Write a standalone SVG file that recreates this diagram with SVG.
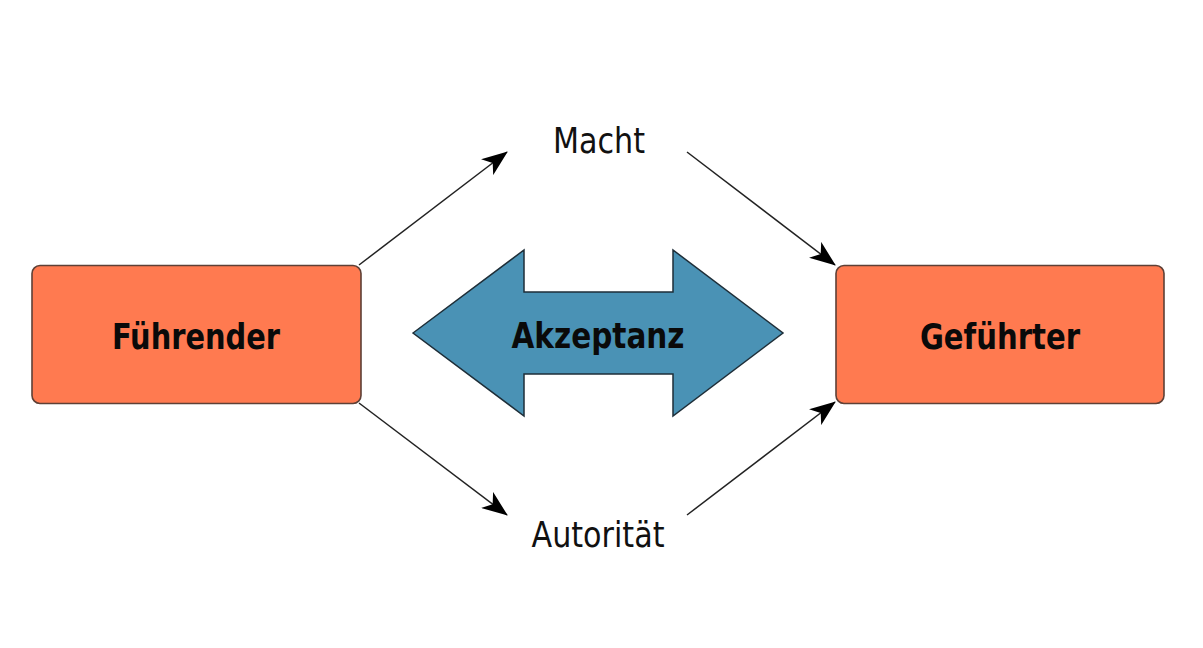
<svg xmlns="http://www.w3.org/2000/svg" width="1203" height="648" viewBox="0 0 1203 648">
<defs>
<style>
.box{fill:#FF7A50;stroke:#5E4036;stroke-width:1.6}
.big{font-family:"DejaVu Sans Condensed","DejaVu Sans",sans-serif;font-weight:bold;font-size:36px;fill:#0a0a0a;text-anchor:middle}
.lbl{font-family:"DejaVu Sans Condensed","DejaVu Sans",sans-serif;font-size:36px;fill:#111;text-anchor:middle}
.con{stroke:#222;stroke-width:1.5;fill:none;marker-end:url(#ah)}
</style>
<marker id="ah" viewBox="0 0 26 20" refX="25" refY="10" markerWidth="26" markerHeight="20" markerUnits="userSpaceOnUse" orient="auto">
<path d="M0,0 L26,10 L0,20 L7,10 Z" fill="#000"/>
</marker>
</defs>
<rect width="1203" height="648" fill="#fff"/>
<g id="fuehrender">
<rect class="box" x="32" y="265.5" width="329" height="138" rx="8"/>
<text class="big" x="196" y="349" textLength="168" lengthAdjust="spacingAndGlyphs">Führender</text>
</g>
<g id="gefuehrter">
<rect class="box" x="836" y="265.5" width="328" height="138" rx="8"/>
<text class="big" x="1000" y="349" textLength="160" lengthAdjust="spacingAndGlyphs">Geführter</text>
</g>
<g id="akzeptanz">
<polygon points="413,333 524,250 524,292 673,292 673,250 783,333 673,416 673,374 524,374 524,416" fill="#4A92B5" stroke="#1E2E38" stroke-width="1.5"/>
<text class="big" x="598" y="348" textLength="173" lengthAdjust="spacingAndGlyphs">Akzeptanz</text>
</g>
<g id="macht">
<text class="lbl" x="599" y="153" textLength="92" lengthAdjust="spacingAndGlyphs">Macht</text>
</g>
<g id="autoritaet">
<text class="lbl" x="598" y="547" textLength="133" lengthAdjust="spacingAndGlyphs">Autorität</text>
</g>
<g id="connectors">
<line class="con" x1="359" y1="265" x2="507" y2="152"/>
<line class="con" x1="687" y1="152" x2="835" y2="265"/>
<line class="con" x1="359" y1="403" x2="507" y2="515"/>
<line class="con" x1="687" y1="515" x2="835" y2="402"/>
</g>
</svg>
